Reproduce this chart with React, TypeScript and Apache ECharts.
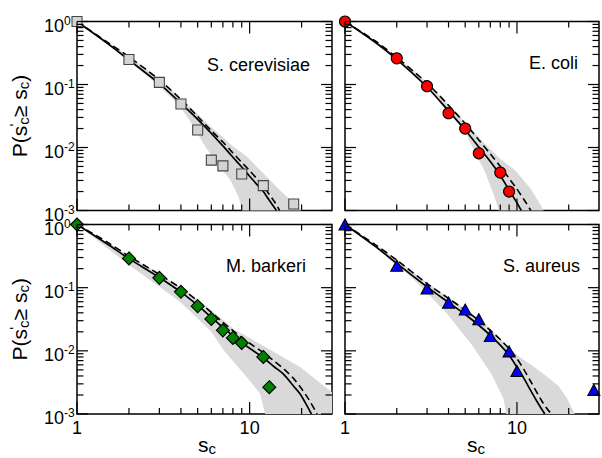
import React, { useEffect, useRef } from 'react';
import * as echarts from 'echarts';

const FONT = '"Liberation Sans", Arial, Helvetica, sans-serif';

const panelNames = ['S. cerevisiae', 'E. coli', 'M. barkeri', 'S. aureus'];

const xMajorTicks = [1, 10];
const xMinorTicks = [2, 3, 4, 5, 6, 7, 8, 9, 20];
const yMajorTicks = [0.001, 0.01, 0.1, 1];
const yMinorMantissas = [2, 3, 4, 5, 6, 7, 8, 9];
const yMinorDecades = [0.001, 0.01, 0.1];

// ---- S. cerevisiae ----
const scerPtsX = [1, 2, 3, 4, 5, 6, 7, 9, 12, 18];
const scerPtsY = [1, 0.25, 0.108, 0.049, 0.019, 0.0063, 0.0051, 0.0038, 0.00248, 0.00127];
const scerSolidX = [1, 1.5, 2, 3, 4, 5, 6, 7, 8, 9, 10, 11, 12, 13, 14.3];
const scerSolidY = [1, 0.45, 0.245, 0.103, 0.05, 0.028, 0.0168, 0.0106, 0.007, 0.0049, 0.0035, 0.0026, 0.002, 0.00145, 0.001];
const scerDashX = [1, 1.5, 2, 3, 4, 5, 6, 7, 8, 9, 10, 11, 12, 13, 14, 14.9];
const scerDashY = [1, 0.47, 0.275, 0.118, 0.058, 0.031, 0.0185, 0.0122, 0.0082, 0.0058, 0.0043, 0.0032, 0.0024, 0.0018, 0.00135, 0.001];
const scerLowX = [1, 2, 3, 4, 4.74, 5.54, 6.47, 7.73, 8.63, 9.03];
const scerLowY = [1, 0.235, 0.095, 0.043, 0.0214, 0.0103, 0.0056, 0.00305, 0.00166, 0.001];
const scerUpX = [1, 2, 3, 4, 5, 6, 7, 8, 9.66, 12, 15, 18, 20.1];
const scerUpY = [1, 0.28, 0.121, 0.06, 0.034, 0.021, 0.0145, 0.0105, 0.0071, 0.0039, 0.0021, 0.0013, 0.001];

// ---- E. coli ----
const ecolPtsX = [1, 2, 3, 4, 5, 6, 8, 9];
const ecolPtsY = [1, 0.26, 0.094, 0.035, 0.02, 0.0081, 0.004, 0.002];
const ecolSolidX = [1, 1.5, 2, 3, 4, 5, 6, 7, 8, 9, 10, 10.6];
const ecolSolidY = [1, 0.468, 0.251, 0.0912, 0.038, 0.019, 0.0102, 0.006, 0.0036, 0.0021, 0.00132, 0.001];
const ecolDashX = [1, 1.5, 2, 3, 4, 5, 6, 7, 8, 9, 10, 11, 12.05];
const ecolDashY = [1, 0.49, 0.269, 0.105, 0.0468, 0.024, 0.0132, 0.0079, 0.005, 0.00324, 0.00219, 0.00148, 0.001];
const ecolLowX = [1, 2, 3, 4, 5, 5.5, 6.57, 7.5, 7.83];
const ecolLowY = [1, 0.245, 0.088, 0.036, 0.0175, 0.0103, 0.0039, 0.0015, 0.001];
const ecolUpX = [1, 2, 3, 4, 5, 6.57, 8, 9.8, 12.2, 14.3];
const ecolUpY = [1, 0.275, 0.108, 0.048, 0.0252, 0.0112, 0.0066, 0.0043, 0.0021, 0.001];

// ---- M. barkeri ----
const mbarPtsX = [1, 2, 3, 4, 5, 6, 7, 8, 9, 12, 13];
const mbarPtsY = [1, 0.29, 0.143, 0.086, 0.051, 0.032, 0.0211, 0.016, 0.0133, 0.008, 0.00266];
const mbarSolidX = [1, 1.5, 2, 3, 4, 5, 6, 7, 8, 9, 10, 12, 14, 15.7, 18, 19.7, 21, 22.8];
const mbarSolidY = [1, 0.49, 0.288, 0.145, 0.085, 0.0525, 0.0339, 0.0234, 0.0174, 0.0135, 0.011, 0.00776, 0.0055, 0.00427, 0.00275, 0.00204, 0.00151, 0.001];
const mbarDashX = [1, 1.5, 2, 3, 4, 5, 6, 7, 8, 9, 10, 12, 14, 16, 18, 20, 22, 24.6];
const mbarDashY = [1, 0.525, 0.316, 0.162, 0.0977, 0.0617, 0.0407, 0.0282, 0.0209, 0.0162, 0.0132, 0.00933, 0.00676, 0.005, 0.00363, 0.00251, 0.0017, 0.001];
const mbarLowX = [1, 2, 3, 4, 6, 7.08, 9.66, 11.5, 12.3];
const mbarLowY = [1, 0.228, 0.103, 0.058, 0.02, 0.0102, 0.0038, 0.0021, 0.001];
const mbarUpX = [1, 2, 3, 4, 5, 6, 7, 8.1, 10.1, 14.4, 19.7, 24.6, 30, 30];
const mbarUpY = [1, 0.32, 0.165, 0.1, 0.065, 0.044, 0.031, 0.022, 0.0158, 0.009, 0.0055, 0.0034, 0.0022, 0.001];

// ---- S. aureus ----
const saurPtsX = [1, 2, 3, 4, 5, 6, 7, 9, 10, 28];
const saurPtsY = [1, 0.222, 0.097, 0.058, 0.045, 0.0316, 0.0172, 0.0098, 0.0048, 0.0024];
const saurSolidX = [1, 1.5, 2, 3, 4, 5, 6, 7, 8, 9, 10, 11, 12, 13, 14, 14.5];
const saurSolidY = [1, 0.45, 0.242, 0.103, 0.0582, 0.0376, 0.0254, 0.0176, 0.0123, 0.0085, 0.0055, 0.00363, 0.00237, 0.00162, 0.00117, 0.001];
const saurDashX = [1, 1.5, 2, 3, 4, 5, 6, 7, 8, 9, 10, 11, 12, 13, 14, 15, 15.9];
const saurDashY = [1, 0.479, 0.274, 0.116, 0.0676, 0.044, 0.0302, 0.0211, 0.0151, 0.0108, 0.0075, 0.005, 0.0033, 0.00224, 0.00158, 0.0012, 0.001];
const saurLowX = [1, 2, 2.59, 3.86, 5.5, 7.17, 8.38, 8.65];
const saurLowY = [1, 0.235, 0.124, 0.041, 0.0122, 0.0041, 0.0017, 0.001];
const saurUpX = [1, 2, 3, 4, 5, 6, 7, 8.57, 10, 12.2, 15, 17.4, 19.5, 21.7];
const saurUpY = [1, 0.28, 0.12, 0.07, 0.046, 0.032, 0.0225, 0.0128, 0.0085, 0.0059, 0.0039, 0.0028, 0.0018, 0.001];

const zip = (xs: number[], ys: number[]) => xs.map((x, i) => [x, ys[i]]);

const panels = [
  {
    pts: zip(scerPtsX, scerPtsY), solid: zip(scerSolidX, scerSolidY), dash: zip(scerDashX, scerDashY),
    low: zip(scerLowX, scerLowY), up: zip(scerUpX, scerUpY),
    symbol: 'rect', size: 10, color: '#d4d4d4', border: '#444444',
  },
  {
    pts: zip(ecolPtsX, ecolPtsY), solid: zip(ecolSolidX, ecolSolidY), dash: zip(ecolDashX, ecolDashY),
    low: zip(ecolLowX, ecolLowY), up: zip(ecolUpX, ecolUpY),
    symbol: 'circle', size: 11, color: '#ff0000', border: '#000000',
  },
  {
    pts: zip(mbarPtsX, mbarPtsY), solid: zip(mbarSolidX, mbarSolidY), dash: zip(mbarDashX, mbarDashY),
    low: zip(mbarLowX, mbarLowY), up: zip(mbarUpX, mbarUpY),
    symbol: 'diamond', size: 13, color: '#008000', border: '#000000',
  },
  {
    pts: zip(saurPtsX, saurPtsY), solid: zip(saurSolidX, saurSolidY), dash: zip(saurDashX, saurDashY),
    low: zip(saurLowX, saurLowY), up: zip(saurUpX, saurUpY),
    symbol: 'triangle', size: [12, 11], color: '#0000ff', border: '#000000',
  },
];

const gridBoxes = [
  { left: 77, top: 21.5, width: 255, height: 189 },
  { left: 345, top: 21.5, width: 254, height: 189 },
  { left: 77, top: 224.5, width: 255, height: 189.5 },
  { left: 345, top: 224.5, width: 254, height: 189.5 },
];

const labelPos = [
  { x: 310, y: 65 },
  { x: 578, y: 63 },
  { x: 306, y: 266 },
  { x: 580, y: 266 },
];

const xTitlePos = [
  { x: 207, y: 444 },
  { x: 476, y: 444 },
];

const X_MIN = 1, X_MAX = 30, Y_MIN = 0.001, Y_MAX = 1;

function buildTickData() {
  const d: number[][] = [];
  const MAJX = 12, MINX = 6, MAJY = 11, MINY = 6.5;
  xMajorTicks.forEach((v) => { d.push([v, Y_MIN, 0, -MAJX]); d.push([v, Y_MAX, 0, MAJX]); });
  xMinorTicks.forEach((v) => { d.push([v, Y_MIN, 0, -MINX]); d.push([v, Y_MAX, 0, MINX]); });
  yMajorTicks.forEach((v) => { d.push([X_MIN, v, MAJY, 0]); d.push([X_MAX, v, -MAJY, 0]); });
  yMinorDecades.forEach((dec) => yMinorMantissas.forEach((m) => {
    const v = m * dec;
    d.push([X_MIN, v, MINY, 0]); d.push([X_MAX, v, -MINY, 0]);
  }));
  return d;
}

function isPow10(v: number) {
  const l = Math.log10(v);
  return Math.abs(l - Math.round(l)) < 1e-6;
}

function buildOption() {
  const grid: any[] = [];
  const xAxis: any[] = [];
  const yAxis: any[] = [];
  const series: any[] = [];
  const tickData = buildTickData();

  panels.forEach((p, i) => {
    const bottom = i >= 2;
    const left = i % 2 === 0;
    grid.push({
      ...gridBoxes[i], show: true, borderColor: '#000', borderWidth: 1.5,
      backgroundColor: 'transparent', containLabel: false, outerBoundsMode: 'none',
    });
    xAxis.push({
      type: 'log', logBase: 10, gridIndex: i, min: X_MIN, max: X_MAX,
      axisLine: { show: false }, axisTick: { show: false }, splitLine: { show: false }, minorTick: { show: false },
      axisLabel: {
        show: bottom, margin: 5, fontSize: 18, fontFamily: FONT, color: '#000',
        formatter: (v: number) => (isPow10(v) ? String(Math.round(v)) : ''),
      },
    });
    yAxis.push({
      type: 'log', logBase: 10, gridIndex: i, min: Y_MIN, max: Y_MAX,
      axisLine: { show: false }, axisTick: { show: false }, splitLine: { show: false }, minorTick: { show: false },
      axisLabel: {
        show: left, margin: 33, align: 'left', padding: [8, 0, 0, 0],
        formatter: (v: number) => (isPow10(v) ? `{b|10}{s|${Math.round(Math.log10(v))}}` : ''),
        rich: {
          b: { fontSize: 18, lineHeight: 22, fontFamily: FONT, color: '#000' },
          s: { fontSize: 12, lineHeight: 12, verticalAlign: 'top', fontFamily: FONT, color: '#000' },
        },
      },
      name: left ? "{t|P(s}{p|'}{c|c}{t|≥ s}{c|c}{t|)}" : '',
      nameLocation: 'middle', nameRotate: 90, nameGap: 46,
      nameTextStyle: {
        color: '#000', fontFamily: FONT,
        rich: {
          t: { fontSize: 21, lineHeight: 24, fontFamily: FONT, color: '#000' },
          c: { fontSize: 15, lineHeight: 15, verticalAlign: 'bottom', fontFamily: FONT, color: '#000' },
          p: { fontSize: 15, lineHeight: 15, verticalAlign: 'top', width: 1, fontFamily: FONT, color: '#000' },
        },
      },
    });

    const bandVerts = [...p.up, ...p.low.slice().reverse()];
    series.push({
      type: 'custom', xAxisIndex: i, yAxisIndex: i, z: 1, silent: true,
      data: bandVerts,
      renderItem: (params: any, api: any) => {
        if (params.dataIndex !== 0) return null;
        const pts = bandVerts.map((v) => api.coord(v));
        return { type: 'polygon', shape: { points: pts }, style: { fill: '#d9d9d9', stroke: null } };
      },
    });
    series.push({
      type: 'line', xAxisIndex: i, yAxisIndex: i, z: 2, silent: true,
      data: p.solid, symbol: 'none', smooth: 0.3,
      lineStyle: { color: '#000', width: 1.7 },
    });
    series.push({
      type: 'line', xAxisIndex: i, yAxisIndex: i, z: 2, silent: true,
      data: p.dash, symbol: 'none', smooth: 0.3,
      lineStyle: { color: '#000', width: 1.6, type: [7, 4] },
    });
    series.push({
      type: 'scatter', xAxisIndex: i, yAxisIndex: i, z: 3, silent: true, clip: false,
      data: p.pts, symbol: p.symbol, symbolSize: p.size,
      itemStyle: { color: p.color, borderColor: p.border, borderWidth: 1.1, opacity: 1 },
    });
    series.push({
      type: 'custom', xAxisIndex: i, yAxisIndex: i, z: 4, silent: true,
      data: tickData, encode: { x: 0, y: 1 },
      renderItem: (params: any, api: any) => {
        const c = api.coord([api.value(0), api.value(1)]);
        return {
          type: 'line',
          shape: { x1: c[0], y1: c[1], x2: c[0] + api.value(2), y2: c[1] + api.value(3) },
          style: { stroke: '#000', lineWidth: 1.2 },
        };
      },
    });
  });

  const graphic: any[] = panelNames.map((n, i) => ({
    type: 'text', x: labelPos[i].x, y: labelPos[i].y, z: 10,
    style: {
      text: n, fill: '#000', font: `18px ${FONT}`,
      textAlign: 'right', textVerticalAlign: 'middle',
    },
  }));
  xTitlePos.forEach((pos) => {
    graphic.push({
      type: 'text', x: pos.x, y: pos.y, z: 10,
      style: {
        text: '{s|s}{c|c}', fill: '#000', font: `21px ${FONT}`,
        textAlign: 'center', textVerticalAlign: 'middle',
        rich: {
          s: { font: `21px ${FONT}`, lineHeight: 24, fill: '#000' },
          c: { font: `15px ${FONT}`, lineHeight: 16, verticalAlign: 'bottom', fill: '#000' },
        },
      },
    });
  });

  return {
    animation: false,
    backgroundColor: '#fff',
    grid, xAxis, yAxis, series, graphic,
  };
}

export default function App() {
  const ref = useRef<HTMLDivElement>(null);
  useEffect(() => {
    document.body.style.margin = '0';
    const chart = echarts.init(ref.current as HTMLDivElement, undefined, { renderer: 'svg' });
    chart.setOption(buildOption() as any);
    return () => chart.dispose();
  }, []);
  return <div ref={ref} style={{ width: 602, height: 458 }} />;
}
